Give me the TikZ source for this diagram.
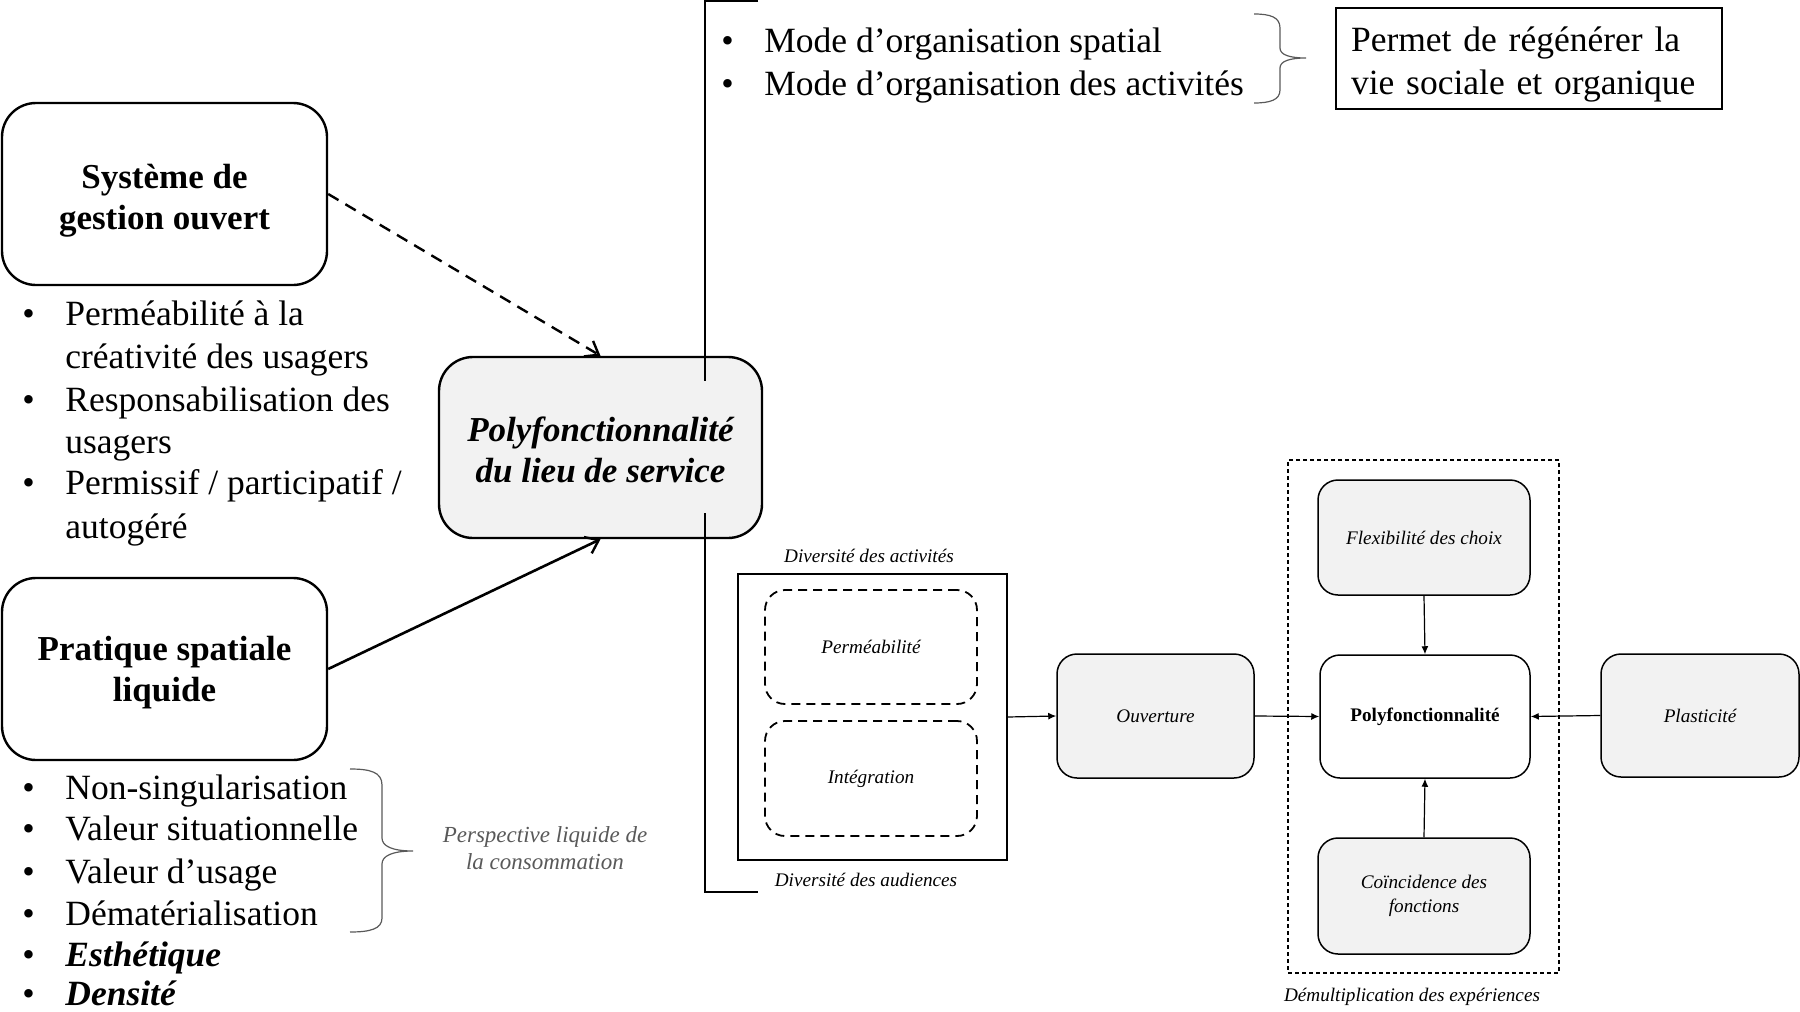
\documentclass[tikz,border=0pt]{standalone}
\usepackage{fontspec}
\setmainfont{Liberation Serif}
\usetikzlibrary{arrows.meta}
\definecolor{boxfill}{HTML}{F2F2F2}
\definecolor{bracegray}{HTML}{595959}
\newcommand{\headfont}{\fontsize{17.5}{20.5}\selectfont}
\newcommand{\listfont}{\fontsize{17.75}{21.5}\selectfont}
\newcommand{\smallfont}{\fontsize{9.6}{12}\selectfont}
\newcommand{\perspfont}{\fontsize{11.5}{13.5}\selectfont}
\newcommand{\itembul}{\makebox[21.5pt][l]{•}}
\begin{document}
\begin{tikzpicture}[x=0.5pt,y=-0.5pt,
  mainbox/.style={draw, line width=1.2pt, rounded corners=17pt, align=center, inner sep=0pt,
    minimum width=162.5pt, minimum height=91pt, font=\headfont\bfseries},
  listline/.style={anchor=base west, inner sep=0pt, font=\listfont},
  smallbox/.style={draw, line width=0.75pt, rounded corners=10pt, align=center, inner sep=0pt,
    fill=boxfill, font=\smallfont\itshape},
  dashbox/.style={draw, line width=0.9pt, dash pattern=on 4.5pt off 3pt, rounded corners=10pt,
    inner sep=0pt, minimum width=106pt, minimum height=57pt, font=\smallfont\itshape},
  smalllabel/.style={inner sep=0pt, font=\smallfont\itshape},
  mainarrow/.style={line width=1.3pt, -{Straight Barb[length=6pt,width=9pt,line width=1.2pt]}},
  smallarrow/.style={line width=0.6pt, -{Latex[length=4pt,width=3.5pt]}},
  bracket/.style={line width=0.75pt},
  brace/.style={line width=0.6pt, bracegray}
]
\useasboundingbox (0,0) rectangle (1800,1012);

% ---- left column: the two drivers ----
\node[mainbox] (sys) at (164.5,194) {\rule{0pt}{19pt}Système de\\gestion ouvert};
\node[mainbox] (pra) at (164.5,669) {\rule{0pt}{16pt}Pratique spatiale\\liquide};

\node[listline] (l1) at (22,325) {\itembul Perméabilité à la};
\node[listline] (l2) at (65,368) {créativité des usagers};
\node[listline] (l3) at (22,411) {\itembul Responsabilisation des};
\node[listline] (l4) at (65,453) {usagers};
\node[listline] (l5) at (22,494) {\itembul Permissif / participatif /};
\node[listline] (l6) at (65,538) {autogéré};

\node[listline] (m1) at (22,799) {\itembul Non-singularisation};
\node[listline] (m2) at (22,840) {\itembul Valeur situationnelle};
\node[listline] (m3) at (22,883) {\itembul Valeur d’usage};
\node[listline] (m4) at (22,925) {\itembul Dématérialisation};
\node[listline] (m5) at (22,966) {\itembul \textbf{\textit{Esthétique}}};
\node[listline] (m6) at (22,1005) {\itembul \textbf{\textit{Densité}}};

% brace grouping the first four items
\draw[brace] (350,769) .. controls (370,769) and (382,772) .. (382,785) -- (382,838)
  .. controls (382,846) and (392,851) .. (413,851)
  .. controls (392,851) and (382,856) .. (382,864) -- (382,918)
  .. controls (382,929) and (370,932) .. (350,932);
\node[inner sep=0pt, align=center, font=\perspfont\itshape, text=bracegray] (persp) at (545,848.5)
  {Perspective liquide de\\la consommation};

% ---- central concept ----
\node[mainbox, fill=boxfill, minimum width=161.5pt, minimum height=90.5pt, font=\headfont\bfseries\itshape]
  (poly) at (600.5,447.5) {\rule{0pt}{15pt}Polyfonctionnalité\\du lieu de service};

\draw[mainarrow, line width=1.2pt, dash pattern=on 6pt off 4pt] (sys.east) -- (poly.north);
\draw[mainarrow] (pra.east) -- (poly.south);

% bracket spanning the right-hand part
\coordinate (bta) at (758,1);
\coordinate (btb) at (705,1);
\coordinate (btc) at (705,381);
\coordinate (bba) at (705,513);
\coordinate (bbb) at (705,892);
\coordinate (bbc) at (758,892);
\draw[bracket] (bta) -- (btb) -- (btc);
\draw[bracket] (bba) -- (bbb) -- (bbc);

% ---- top right: organisation modes ----
\node[listline] (o1) at (721,52) {\itembul Mode d’organisation spatial};
\node[listline] (o2) at (721,95) {\itembul Mode d’organisation des activités};
\draw[brace] (1254,14) .. controls (1270,14) and (1280,17) .. (1280,28) -- (1280,48)
  .. controls (1280,55) and (1290,58) .. (1306,58)
  .. controls (1290,58) and (1280,61) .. (1280,68) -- (1280,90)
  .. controls (1280,100) and (1270,103) .. (1254,103);
\node[draw, line width=1.2pt, minimum width=193pt, minimum height=50.5pt, text width=178pt,
  inner xsep=7.5pt, inner ysep=0pt, align=left, font=\listfont] (reg) at (1529,58.5)
  {\rule{0pt}{18.5pt}Permet de régénérer la\\vie sociale et organique};

% ---- bottom right: the polyfunctionality model ----
\node[smalllabel] (divact) at (869,556) {Diversité des activités};
\node[draw, line width=0.7pt, minimum width=134.5pt, minimum height=143pt, inner sep=0pt] (div) at (872.5,717) {};
\node[dashbox] (perm) at (871,647) {Perméabilité};
\node[dashbox, minimum height=57.5pt] (integ) at (871,778.5) {Intégration};
\node[smalllabel] (divaud) at (866,880) {Diversité des audiences};

\node[smallbox, minimum width=98.5pt, minimum height=62pt] (ouv) at (1155.5,716) {Ouverture};

\node[draw, line width=0.6pt, dash pattern=on 2pt off 1.5pt, minimum width=135.5pt, minimum height=256.5pt,
  inner sep=0pt] (frame) at (1423.5,716.5) {};
\node[smallbox, minimum width=106pt, minimum height=57.5pt] (flex) at (1424,537.5) {Flexibilité des choix};
\node[smallbox, fill=white, minimum width=105pt, minimum height=61.5pt, font=\smallfont\bfseries]
  (polys) at (1425,716.5) {Polyfonctionnalité};
\node[smallbox, minimum width=106pt, minimum height=58pt] (coin) at (1424,896) {Coïncidence des\\fonctions};
\node[smallbox, minimum width=99pt, minimum height=61.5pt] (plas) at (1700,715.5) {Plasticité};
\node[smalllabel] (demul) at (1412,997) {Démultiplication des expériences};

\draw[smallarrow] (div.east) -- (ouv.west);
\draw[smallarrow] (ouv.east) -- (polys.west);
\draw[smallarrow] (flex.south) -- (polys.north);
\draw[smallarrow] (coin.north) -- (polys.south);
\draw[smallarrow] (plas.west) -- (polys.east);
\end{tikzpicture}
\end{document}
